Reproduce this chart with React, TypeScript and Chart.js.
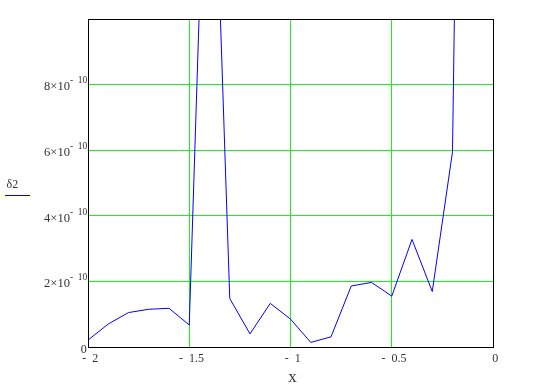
import React, { useEffect, useRef } from "react";
import { Chart, registerables } from "chart.js";

Chart.register(...registerables);

// Data (x values and δ2 values)
const xValues = [-2, -1.9, -1.8, -1.7, -1.6, -1.5, -1.4, -1.3, -1.2, -1.1, -1.0, -0.9, -0.8, -0.7, -0.6, -0.5, -0.4, -0.3, -0.2, -0.1];
const d2Values = [
  0.21e-10, 0.70e-10, 1.05e-10, 1.15e-10, 1.18e-10, 0.67e-10, 20.0e-10, 1.48e-10, 0.40e-10, 1.33e-10,
  0.85e-10, 0.14e-10, 0.31e-10, 1.86e-10, 1.97e-10, 1.55e-10, 3.28e-10, 1.69e-10, 5.95e-10, 50e-10,
];

// Ticks
const xTickValues = [-2, -1.5, -1, -0.5, 0];
const xTickLabels = ["-  2", "-  1.5", "-  1", "-  0.5", "0"];
const yTickValues = [0, 2e-10, 4e-10, 6e-10, 8e-10];
const yTickMantissas = ["0", "2", "4", "6", "8"];
const yTickExponent = "-  10";

const xTitle = "x";
const yTitle = "δ2";

const GRID = "#1cf01c";
const TEXT = "#333333";
const LINE = "#0000ff";
const SERIF = "'Liberation Serif', 'Times New Roman', serif";

const overlayPlugin = {
  id: "overlay",
  afterDatasetsDraw(chart: any) {
    const { ctx, chartArea, scales } = chart;
    const xs = scales.x;
    const ys = scales.y;
    ctx.save();
    // frame
    ctx.strokeStyle = "#000000";
    ctx.lineWidth = 1;
    const l = Math.round(chartArea.left) + 0.5;
    const r = Math.round(chartArea.right) + 0.5;
    const t = Math.round(chartArea.top) + 0.5;
    const b = Math.round(chartArea.bottom) + 0.5;
    ctx.strokeRect(l, t, r - l, b - t);

    ctx.fillStyle = TEXT;
    ctx.textBaseline = "alphabetic";
    // x tick labels
    ctx.font = `12px ${SERIF}`;
    ctx.textAlign = "center";
    xTickValues.forEach((v, i) => {
      const px = xs.getPixelForValue(v);
      ctx.fillText(xTickLabels[i], px + 2.3, b + 14.2);
    });
    // y tick labels
    const rightEdge = chartArea.left - 0.7;
    yTickValues.forEach((v, i) => {
      const py = ys.getPixelForValue(v);
      if (v === 0) {
        ctx.font = `12px ${SERIF}`;
        ctx.textAlign = "right";
        ctx.fillText(yTickMantissas[i], rightEdge - 0.6, py + 5.7);
        return;
      }
      ctx.font = `9.5px ${SERIF}`;
      const supW = ctx.measureText(yTickExponent).width;
      ctx.textAlign = "left";
      ctx.fillText(yTickExponent, rightEdge - supW, py - 1.3);
      ctx.font = `12.5px ${SERIF}`;
      ctx.textAlign = "right";
      ctx.fillText(yTickMantissas[i] + "×10", rightEdge - supW, py + 5.7);
    });
    // x title
    ctx.font = `17px ${SERIF}`;
    ctx.textAlign = "center";
    ctx.fillText(xTitle, (chartArea.left + chartArea.right) / 2 + 2, 381.7);
    // y title with line sample
    ctx.font = `12px ${SERIF}`;
    ctx.textAlign = "left";
    ctx.fillText(yTitle, 6.5, 188.3);
    ctx.strokeStyle = LINE;
    ctx.beginPath();
    ctx.moveTo(5, 195.5);
    ctx.lineTo(30, 195.5);
    ctx.stroke();
    ctx.restore();
  },
};

export default function App() {
  const canvasRef = useRef<HTMLCanvasElement | null>(null);

  useEffect(() => {
    const canvas = canvasRef.current;
    if (!canvas) return;
    const points = xValues.map((x, i) => ({ x, y: d2Values[i] }));
    const chart = new Chart(canvas, {
      type: "line",
      data: {
        datasets: [
          {
            label: yTitle,
            data: points,
            borderColor: LINE,
            borderWidth: 1,
            pointRadius: 0,
            tension: 0,
            fill: false,
          },
        ],
      },
      options: {
        responsive: false,
        animation: false,
        devicePixelRatio: 1,
        layout: { padding: { left: 88, top: 19, right: 65, bottom: 45 } },
        plugins: { legend: { display: false }, tooltip: { enabled: false } },
        scales: {
          x: {
            type: "linear",
            min: -2,
            max: 0,
            afterBuildTicks: (axis: any) => {
              axis.ticks = [-1.5, -1, -0.5].map((v) => ({ value: v }));
            },
            ticks: { display: false },
            grid: { color: GRID, lineWidth: 1, drawTicks: false },
            border: { display: false },
          },
          y: {
            type: "linear",
            min: 0,
            max: 1e-9,
            afterBuildTicks: (axis: any) => {
              axis.ticks = yTickValues.filter((v) => v > 0).map((v) => ({ value: v }));
            },
            ticks: { display: false },
            grid: { color: GRID, lineWidth: 1, drawTicks: false },
            border: { display: false },
          },
        },
      },
      plugins: [overlayPlugin],
    });
    return () => chart.destroy();
  }, []);

  return (
    <div style={{ position: "fixed", left: 0, top: 0, width: 558, height: 392, background: "#ffffff" }}>
      <canvas ref={canvasRef} width={558} height={392} style={{ width: 558, height: 392, display: "block" }} />
    </div>
  );
}
